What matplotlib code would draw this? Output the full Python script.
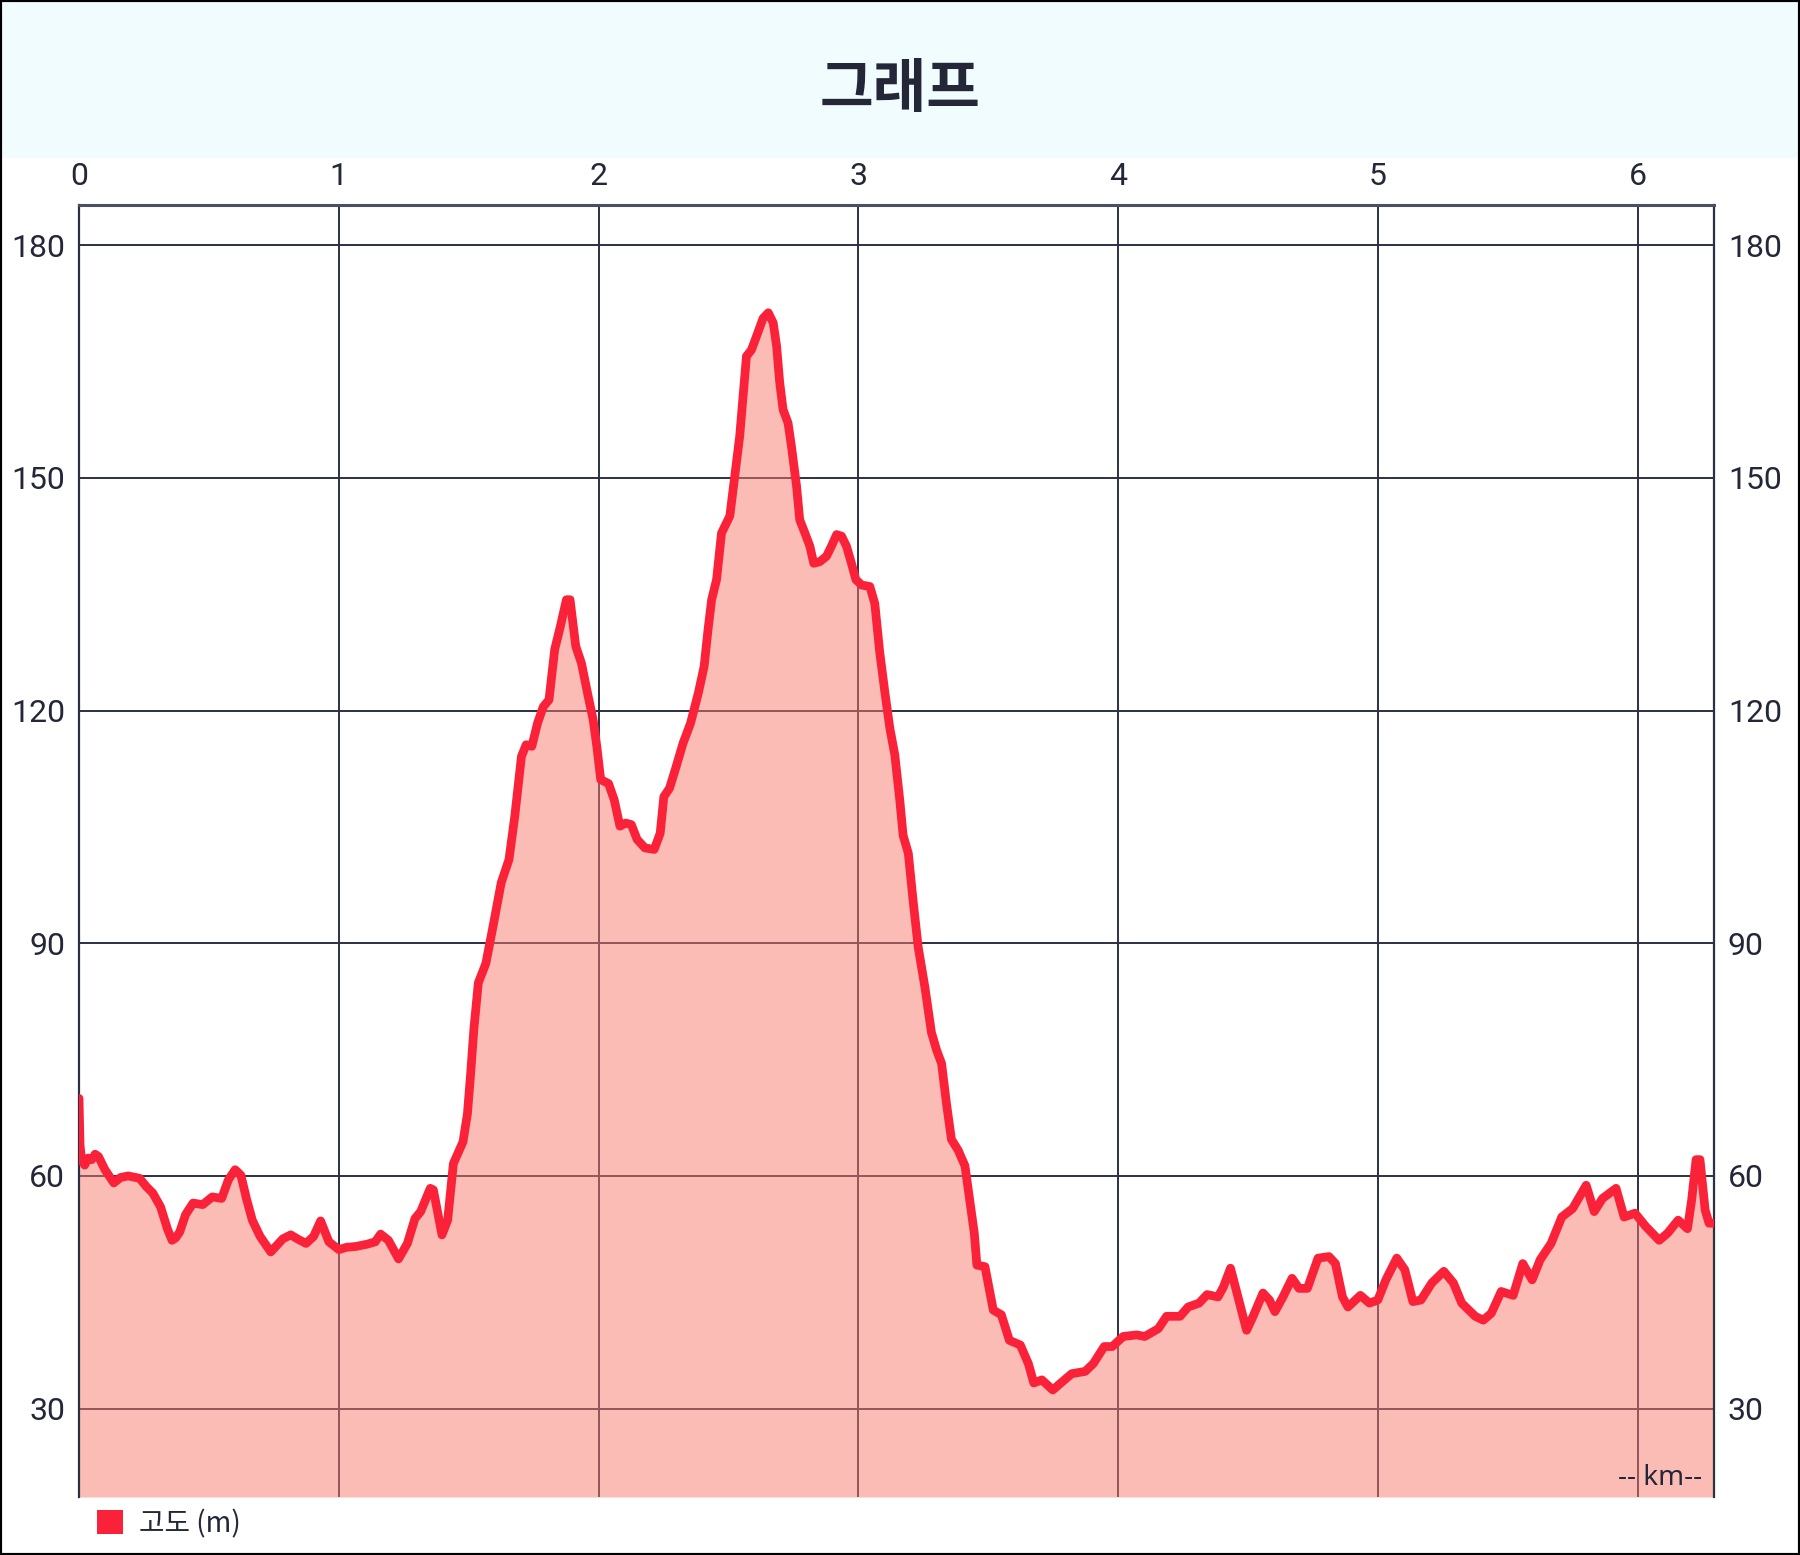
import matplotlib
matplotlib.use("Agg")
import matplotlib.pyplot as plt
from matplotlib.patches import Rectangle, Patch

# ---- data ----
distance_km = [
    0.000, 0.004, 0.010, 0.022, 0.035, 0.049, 0.062, 0.075, 0.100, 0.134, 0.160, 0.189,
    0.233, 0.260, 0.284, 0.314, 0.340, 0.358, 0.372, 0.388, 0.410, 0.439, 0.476, 0.513,
    0.549, 0.575, 0.601, 0.623, 0.645, 0.667, 0.697, 0.738, 0.785, 0.815, 0.845, 0.874,
    0.903, 0.930, 0.962, 1.000, 1.030, 1.065, 1.109, 1.140, 1.161, 1.191, 1.230, 1.264,
    1.293, 1.315, 1.352, 1.364, 1.397, 1.419, 1.441, 1.478, 1.495, 1.507, 1.520, 1.537,
    1.566, 1.596, 1.625, 1.655, 1.677, 1.703, 1.721, 1.743, 1.765, 1.787, 1.809, 1.831,
    1.853, 1.876, 1.890, 1.912, 1.934, 1.957, 1.979, 1.993, 2.008, 2.038, 2.060, 2.082,
    2.104, 2.126, 2.148, 2.178, 2.214, 2.237, 2.251, 2.273, 2.295, 2.325, 2.354, 2.384,
    2.406, 2.421, 2.435, 2.454, 2.473, 2.492, 2.505, 2.524, 2.543, 2.556, 2.569, 2.588,
    2.608, 2.633, 2.653, 2.672, 2.685, 2.697, 2.710, 2.729, 2.742, 2.762, 2.774, 2.794,
    2.813, 2.828, 2.851, 2.877, 2.896, 2.916, 2.935, 2.954, 2.973, 2.990, 3.012, 3.044,
    3.063, 3.082, 3.102, 3.121, 3.140, 3.159, 3.172, 3.192, 3.211, 3.230, 3.256, 3.281,
    3.301, 3.320, 3.339, 3.358, 3.384, 3.410, 3.429, 3.446, 3.456, 3.487, 3.519, 3.550,
    3.581, 3.623, 3.654, 3.675, 3.706, 3.748, 3.779, 3.821, 3.873, 3.904, 3.946, 3.977,
    4.019, 4.071, 4.102, 4.154, 4.186, 4.238, 4.269, 4.311, 4.342, 4.384, 4.405, 4.432,
    4.457, 4.494, 4.519, 4.557, 4.582, 4.603, 4.634, 4.669, 4.696, 4.728, 4.769, 4.811,
    4.836, 4.863, 4.884, 4.932, 4.967, 4.999, 5.030, 5.072, 5.103, 5.134, 5.165, 5.207,
    5.253, 5.290, 5.322, 5.374, 5.405, 5.436, 5.474, 5.520, 5.557, 5.593, 5.624, 5.666,
    5.707, 5.749, 5.801, 5.832, 5.864, 5.916, 5.947, 5.989, 6.030, 6.082, 6.114, 6.155,
    6.191, 6.207, 6.224, 6.239, 6.259, 6.274, 6.291,
]
elevation_m = [
    70.0, 64.0, 62.0, 61.4, 62.3, 62.1, 62.8, 62.5, 60.8, 59.1, 59.8, 60.0,
    59.7, 58.6, 57.8, 56.0, 53.2, 51.7, 52.0, 52.8, 55.0, 56.5, 56.3, 57.3,
    57.1, 59.5, 60.8, 60.1, 57.0, 54.3, 52.2, 50.2, 51.9, 52.4, 51.8, 51.3,
    52.2, 54.2, 51.5, 50.5, 50.8, 50.9, 51.2, 51.5, 52.5, 51.7, 49.3, 51.3,
    54.5, 55.4, 58.4, 58.2, 52.4, 54.3, 61.6, 64.4, 68.0, 73.0, 79.0, 84.9,
    87.4, 92.6, 97.8, 100.8, 106.3, 114.1, 115.6, 115.4, 118.4, 120.5, 121.4, 127.9,
    130.9, 134.3, 134.3, 128.3, 126.1, 122.3, 118.8, 115.4, 111.1, 110.6, 108.5, 105.1,
    105.5, 105.3, 103.4, 102.3, 102.1, 104.2, 108.9, 110.0, 112.4, 115.8, 118.4, 122.3,
    125.7, 130.4, 134.3, 136.9, 142.9, 144.2, 145.1, 150.2, 155.4, 160.5, 165.7, 166.5,
    168.3, 170.6, 171.3, 170.0, 167.0, 162.3, 158.8, 157.1, 154.1, 148.9, 144.6, 142.9,
    141.2, 139.0, 139.2, 139.9, 141.2, 142.7, 142.5, 141.2, 139.0, 136.9, 136.2, 136.0,
    133.8, 127.5, 122.3, 117.7, 114.3, 108.5, 103.9, 101.6, 95.3, 89.5, 84.3, 78.5,
    76.2, 74.5, 69.3, 64.7, 63.3, 61.3, 56.7, 52.6, 48.5, 48.3, 42.7, 42.1,
    38.8, 38.2, 35.8, 33.3, 33.7, 32.4, 33.3, 34.5, 34.8, 35.8, 38.0, 38.0,
    39.3, 39.5, 39.3, 40.3, 41.9, 41.9, 43.1, 43.6, 44.7, 44.4, 45.7, 48.1,
    44.9, 40.1, 41.9, 44.9, 44.0, 42.5, 44.4, 46.8, 45.5, 45.5, 49.4, 49.6,
    48.7, 44.4, 43.1, 44.6, 43.6, 44.0, 46.6, 49.4, 47.9, 43.8, 44.0, 46.2,
    47.7, 46.2, 43.6, 41.9, 41.4, 42.3, 45.1, 44.6, 48.7, 46.6, 49.2, 51.3,
    54.7, 55.8, 58.8, 55.4, 57.1, 58.4, 54.7, 55.2, 53.5, 51.7, 52.6, 54.3,
    53.2, 56.9, 62.1, 62.1, 55.6, 53.9, 53.9,
]
x_ticks = [0, 1, 2, 3, 4, 5, 6]
y_ticks = [30, 60, 90, 120, 150, 180]
title_text = "그래프"
series_label = "고도 (m)"
unit_text = "-- km--"

# ---- styling ----
W, H = 1800, 1555
DPI = 100
num_font = ["Roboto", "Noto Sans CJK KR", "DejaVu Sans"]
kr_font = ["Noto Sans CJK KR", "DejaVu Sans"]
navy = "#232738"
grid_c = "#2b3142"
line_c = "#fa2239"

fig = plt.figure(figsize=(W / DPI, H / DPI), dpi=DPI)
fig.patch.set_facecolor("white")

# title band
fig.patches.append(Rectangle((0, 1 - 158 / H), 1, 158 / H, transform=fig.transFigure,
                             facecolor="#f0fcfe", edgecolor="none", zorder=0))
fig.text(0.5, 1 - 90 / H, title_text, ha="center", va="center", fontsize=42,
         fontweight="heavy", color=navy, family=kr_font)

left, right, top, bottom = 79 / W, 1714 / W, 205 / H, 1497 / H
ax = fig.add_axes([left, 1 - bottom, right - left, bottom - top])
ax.set_xlim(0, 6.293)
ax.set_ylim(18.6, 185.2)

ax.set_axisbelow(True)
ax.grid(True, color=grid_c, linewidth=1.4)
ax.fill_between(distance_km, elevation_m, 18.6, color="#fa7a6e", alpha=0.5,
                linewidth=0, zorder=2)
ax.plot(distance_km, elevation_m, color=line_c, linewidth=6.3, zorder=3,
        solid_joinstyle="round", solid_capstyle="round")

ax.set_xticks(x_ticks)
ax.set_yticks(y_ticks)
ax.xaxis.tick_top()
ax.tick_params(axis="x", length=0, pad=10, labelsize=23, labelcolor=navy)
ax.tick_params(axis="y", length=0, pad=10, labelsize=23, labelcolor=navy,
               left=True, right=True, labelleft=True, labelright=True)
for t in ax.xaxis.get_major_ticks():
    for lbl in (t.label1, t.label2):
        lbl.set_family(num_font)
        lbl.set_fontweight("normal")
for t in ax.yaxis.get_major_ticks():
    for lbl in (t.label1, t.label2):
        lbl.set_family(num_font)
        lbl.set_fontweight("normal")
        lbl.set_fontsize(23)
        lbl.set_color(navy)

for s in ["left", "right", "top"]:
    ax.spines[s].set_color(grid_c)
    ax.spines[s].set_linewidth(1.6)
ax.spines["top"].set_linewidth(2.2)
ax.spines["top"].set_color("#4a5060")
ax.spines["bottom"].set_visible(False)

ax.text(0.993, 0.004, unit_text, transform=ax.transAxes, ha="right", va="bottom",
        fontsize=20, fontweight="medium", color=navy,
        family=["Noto Sans", "DejaVu Sans"], zorder=4)

# legend
leg = fig.legend(handles=[Patch(facecolor=line_c, edgecolor="none", label=series_label)],
                 loc="center left", bbox_to_anchor=(72 / W, 1 - 1524 / H), frameon=False,
                 handlelength=0.95, handleheight=0.95, handletextpad=0.55,
                 prop={"family": kr_font, "size": 20})
for t in leg.get_texts():
    t.set_color(navy)

# outer border
fig.patches.append(Rectangle((0, 0), 1, 1, transform=fig.transFigure, fill=False,
                             edgecolor="black", linewidth=3, zorder=10))

fig.savefig("out.png", dpi=DPI, facecolor="white")
